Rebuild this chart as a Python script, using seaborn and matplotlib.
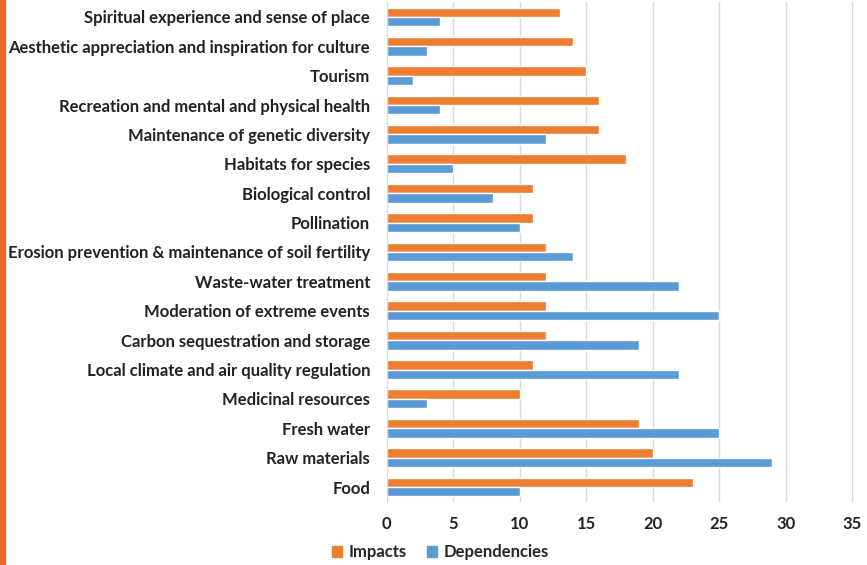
import pandas as pd
import matplotlib.pyplot as plt
import seaborn as sns
from matplotlib.patches import Rectangle

# --- data ---
servicos = [
    "Spiritual experience and sense of place",
    "Aesthetic appreciation and inspiration for culture",
    "Tourism",
    "Recreation and mental and physical health",
    "Maintenance of genetic diversity",
    "Habitats for species",
    "Biological control",
    "Pollination",
    "Erosion prevention & maintenance of soil fertility",
    "Waste-water treatment",
    "Moderation of extreme events",
    "Carbon sequestration and storage",
    "Local climate and air quality regulation",
    "Medicinal resources",
    "Fresh water",
    "Raw materials",
    "Food",
]
impacts = [13, 14, 15, 16, 16, 18, 11, 11, 12, 12, 12, 12, 11, 10, 19, 20, 23]
dependencies = [4, 3, 2, 4, 12, 5, 8, 10, 14, 22, 25, 19, 22, 3, 25, 29, 10]
xticks = [0, 5, 10, 15, 20, 25, 30, 35]

df = pd.DataFrame({
    "Servico": servicos * 2,
    "Valor": impacts + dependencies,
    "Tipo": ["Impacts"] * len(servicos) + ["Dependencies"] * len(servicos),
})

sns.set_style("white")
plt.rcParams["font.family"] = ["Lato", "DejaVu Sans"]

fig = plt.figure(figsize=(8.67, 5.65), dpi=100)
ax = fig.add_axes([0.446, 0.112, 0.54, 0.884])

sns.barplot(data=df, y="Servico", x="Valor", hue="Tipo", order=servicos,
            hue_order=["Impacts", "Dependencies"],
            palette={"Impacts": "#ED7D31", "Dependencies": "#5B9BD5"},
            saturation=1, width=0.64, orient="h", ax=ax, legend=False)

ax.set_xlim(0, 35.2)
ax.set_xticks(xticks)
ax.grid(axis="x", color="#d9d9d9", linewidth=1)
ax.set_axisbelow(True)
for s in ["top", "right", "bottom"]:
    ax.spines[s].set_visible(False)
ax.spines["left"].set_color("#d9d9d9")
ax.set_xlabel("")
ax.set_ylabel("")
ax.tick_params(axis="both", length=0, labelsize=12, colors="#222222")
ax.tick_params(axis="y", pad=12)
ax.tick_params(axis="x", pad=10)
for t in ax.get_yticklabels():
    t.set_fontweight("bold")
for t in ax.get_xticklabels():
    t.set_fontweight("bold")

handles = [Rectangle((0, 0), 1, 1, color="#ED7D31"), Rectangle((0, 0), 1, 1, color="#5B9BD5")]
leg = fig.legend(handles, ["Impacts", "Dependencies"], loc="lower center",
                 bbox_to_anchor=(0.508, -0.018), ncol=2, frameon=False,
                 handlelength=0.6, handleheight=0.6, handletextpad=0.4,
                 columnspacing=1.2, prop={"size": 12, "weight": "bold"})

# orange strip on the left edge
fig.patches.append(Rectangle((0, 0), 0.006, 1, transform=fig.transFigure,
                             color="#E8691F", zorder=10))

fig.savefig("out.png", dpi=100)
